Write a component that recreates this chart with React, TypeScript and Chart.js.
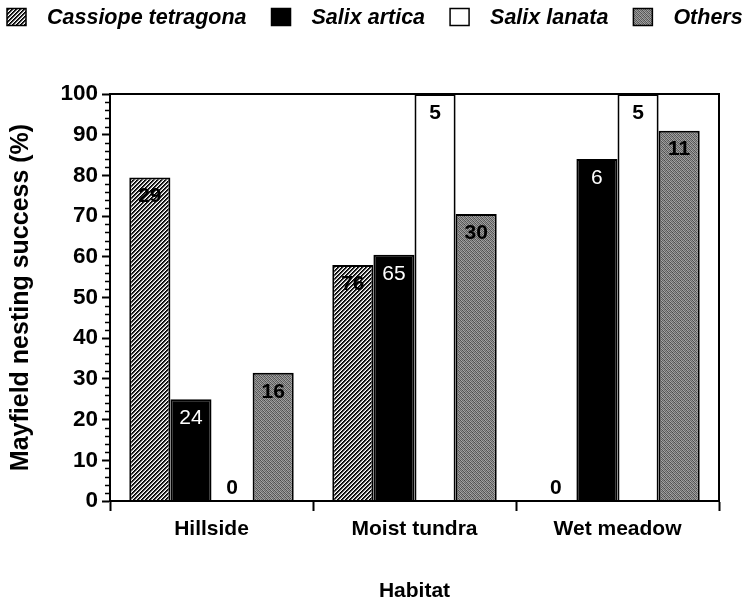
import React, { useEffect, useRef } from 'react';
import { Chart, registerables } from 'chart.js';

Chart.register(...registerables);

const categories = ['Hillside', 'Moist tundra', 'Wet meadow'];
const seriesNames = ['Cassiope tetragona', 'Salix artica', 'Salix lanata', 'Others'];
const cassiope = [79.5, 58, 0];
const salixArtica = [25, 60.5, 84];
const salixLanata = [0, 100, 100];
const others = [31.5, 70.5, 91];
const nCassiope = ['29', '76', '0'];
const nSalixArtica = ['24', '65', '6'];
const nSalixLanata = ['0', '5', '5'];
const nOthers = ['16', '30', '11'];
const sampleLabels = [nCassiope, nSalixArtica, nSalixLanata, nOthers];
const yTitle = 'Mayfield nesting success (%)';
const xTitle = 'Habitat';

const FAMILY = '"Liberation Sans", Arial, Helvetica, sans-serif';

function makeHatch(): CanvasPattern | string {
  const c = document.createElement('canvas');
  c.width = 4;
  c.height = 4;
  const g = c.getContext('2d');
  if (!g) return '#777';
  const img = g.createImageData(4, 4);
  for (let y = 0; y < 4; y++) {
    for (let x = 0; x < 4; x++) {
      const k = (x + y) % 4;
      const v = k === 0 ? 0 : k === 1 ? 40 : k === 2 ? 170 : 255;
      const idx = (y * 4 + x) * 4;
      img.data[idx] = v;
      img.data[idx + 1] = v;
      img.data[idx + 2] = v;
      img.data[idx + 3] = 255;
    }
  }
  g.putImageData(img, 0, 0);
  return g.createPattern(c, 'repeat') || '#777';
}

const stippleTile = [
  0x48, 0xa0, 0x68, 0x98, 0x58, 0xa8, 0x60, 0x90,
  0x98, 0x58, 0xa8, 0x68, 0x90, 0x50, 0xa0, 0x70,
  0x68, 0x90, 0x50, 0xa0, 0x70, 0x98, 0x58, 0xa8,
  0xa8, 0x60, 0x98, 0x58, 0xa0, 0x68, 0x90, 0x50,
  0x58, 0xa0, 0x70, 0x90, 0x50, 0xa8, 0x68, 0x98,
  0x90, 0x50, 0xa0, 0x60, 0x98, 0x58, 0xa8, 0x68,
  0x70, 0x98, 0x58, 0xa8, 0x68, 0x90, 0x50, 0xa0,
  0xa0, 0x68, 0x90, 0x50, 0xa8, 0x60, 0x98, 0x58,
];

function makeStipple(): CanvasPattern | string {
  const c = document.createElement('canvas');
  c.width = 8;
  c.height = 8;
  const g = c.getContext('2d');
  if (!g) return '#888';
  const img = g.createImageData(8, 8);
  for (let i = 0; i < 64; i++) {
    const v = stippleTile[i];
    img.data[i * 4] = v;
    img.data[i * 4 + 1] = v;
    img.data[i * 4 + 2] = v;
    img.data[i * 4 + 3] = 255;
  }
  g.putImageData(img, 0, 0);
  return g.createPattern(c, 'repeat') || '#888';
}

export default function App() {
  const ref = useRef<HTMLCanvasElement | null>(null);

  useEffect(() => {
    const canvas = ref.current;
    if (!canvas) return;
    const hatch = makeHatch();
    const stipple = makeStipple();
    const fills: any[] = [hatch, '#000000', '#ffffff', stipple];
    const seriesData = [cassiope, salixArtica, salixLanata, others];

    const framePlugin = {
      id: 'frame',
      afterDraw(chart: any) {
        const { ctx, chartArea } = chart;
        const ys = chart.scales.y;
        ctx.save();
        ctx.strokeStyle = '#000';
        ctx.lineWidth = 2;
        ctx.strokeRect(chartArea.left, chartArea.top, chartArea.right - chartArea.left, chartArea.bottom - chartArea.top);
        ctx.lineWidth = 1.5;
        for (let v = 2; v < 100; v += 2) {
          if (v % 10 === 0) continue;
          const y = Math.round(ys.getPixelForValue(v)) + 0.5;
          ctx.beginPath();
          ctx.moveTo(chartArea.left - 5, y);
          ctx.lineTo(chartArea.left, y);
          ctx.stroke();
        }
        ctx.restore();
      },
    };

    const labelPlugin = {
      id: 'nlabels',
      afterDatasetsDraw(chart: any) {
        const ctx = chart.ctx;
        ctx.save();
        ctx.textAlign = 'center';
        ctx.textBaseline = 'middle';
        chart.data.datasets.forEach((ds: any, di: number) => {
          const meta = chart.getDatasetMeta(di);
          meta.data.forEach((bar: any, i: number) => {
            const v = ds.data[i];
            const white = di === 1 && v > 0;
            ctx.font = (white ? 'normal' : 'bold') + ' 21px ' + FAMILY;
            ctx.fillStyle = white ? '#ffffff' : '#000000';
            const y = v === 0 ? bar.base - 13 : bar.y + 19;
            ctx.fillText(sampleLabels[di][i], bar.x, y);
          });
        });
        ctx.restore();
      },
    };

    const legendPlugin = {
      id: 'customLegend',
      afterDraw(chart: any) {
        const ctx = chart.ctx;
        ctx.save();
        ctx.font = 'italic bold 21.5px ' + FAMILY;
        ctx.textBaseline = 'middle';
        ctx.textAlign = 'left';
        const cy = 17;
        const boxW = 19;
        const boxH = 17;
        let x = 7;
        seriesNames.forEach((name, i) => {
          ctx.fillStyle = fills[i];
          ctx.fillRect(x, cy - boxH / 2, boxW, boxH);
          ctx.strokeStyle = '#000';
          ctx.lineWidth = 1.5;
          ctx.strokeRect(x, cy - boxH / 2, boxW, boxH);
          x += boxW + 21;
          ctx.fillStyle = '#000';
          ctx.fillText(name, x, cy + 1);
          x += ctx.measureText(name).width + 25;
        });
        ctx.restore();
      },
    };

    const chart = new Chart(canvas, {
      type: 'bar',
      data: {
        labels: categories,
        datasets: seriesNames.map((name, i) => ({
          label: name,
          data: seriesData[i],
          backgroundColor: fills[i],
          borderColor: '#000000',
          borderWidth: 2,
          categoryPercentage: 0.81,
          barPercentage: 1,
        })),
      },
      options: {
        animation: false,
        responsive: false,
        maintainAspectRatio: false,
        layout: { padding: { top: 94, right: 28, left: 0, bottom: 0 } },
        plugins: {
          legend: { display: false },
          tooltip: { enabled: false },
        },
        scales: {
          x: {
            grid: {
              offset: true,
              drawOnChartArea: false,
              tickLength: 10,
              tickWidth: 2,
              tickColor: '#000',
            },
            border: { color: '#000', width: 2 },
            ticks: {
              color: '#000',
              padding: 6,
              font: { family: FAMILY, size: 21, weight: 'bold' },
            },
            title: {
              display: true,
              text: xTitle,
              color: '#000',
              font: { family: FAMILY, size: 21, weight: 'bold', lineHeight: 1 },
              padding: { top: 0, bottom: 0 },
            },
            afterFit(scale: any) {
              scale.height = 101;
            },
          },
          y: {
            min: 0,
            max: 100,
            ticks: {
              stepSize: 10,
              color: '#000',
              padding: 4,
              font: { family: FAMILY, size: 22.5, weight: 'bold' },
            },
            grid: {
              drawOnChartArea: false,
              tickLength: 8,
              tickWidth: 2,
              tickColor: '#000',
            },
            border: { color: '#000', width: 2 },
            title: {
              display: true,
              text: yTitle,
              color: '#000',
              font: { family: FAMILY, size: 25, weight: 'bold', lineHeight: 1.1 },
              padding: { top: 7, bottom: 0 },
            },
            afterFit(scale: any) {
              scale.width = 110;
            },
          },
        },
      } as any,
      plugins: [framePlugin, labelPlugin, legendPlugin],
    });

    return () => chart.destroy();
  }, []);

  return (
    <div style={{ position: 'absolute', left: 0, top: 0, width: 747, height: 602, background: '#fff' }}>
      <canvas ref={ref} width={747} height={602} style={{ display: 'block' }} />
    </div>
  );
}
